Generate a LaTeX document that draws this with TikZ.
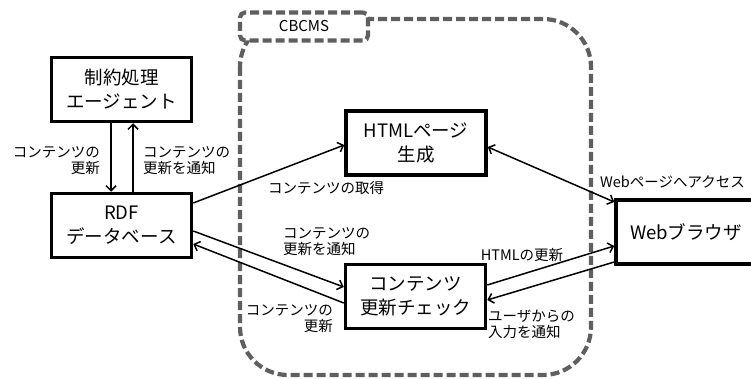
\documentclass[tikz,border=0pt]{standalone}
\usepackage{fontspec}
\setmainfont{Noto Sans CJK JP}
\usetikzlibrary{arrows.meta}
\definecolor{framegray}{RGB}{95,95,95}
\newcommand{\boxfont}{\fontsize{18.5}{24}\selectfont}
\newcommand{\notefont}{\fontsize{14.5}{16}\selectfont}
\tikzset{
  unit/.style   = {rectangle,draw,line width=3.5pt,align=center,font=\boxfont,minimum width=140pt,minimum height=64pt,inner sep=0pt},
  note/.style   = {font=\notefont,inner sep=0pt},
  flow/.style   = {-{Straight Barb[length=5pt,width=10pt]},line width=1.5pt},
  frame/.style  = {draw=framegray,line width=4.2pt,dash pattern=on 9pt off 4pt},
}

\begin{document}
\begin{tikzpicture}[x=1pt,y=-1pt]
\useasboundingbox (0,0) rectangle (751,379);
% CBCMS frame
\draw[frame,rounded corners=48pt] (240,19) rectangle (591,375);
\node[frame,fill=white,rounded corners=5pt,minimum width=128pt,minimum height=28pt,inner sep=0pt,font=\fontsize{15}{18}\selectfont] (cbcms) at (304,26.5) {CBCMS};
% boxes
\node[unit] (agent) at (121.5,89.5) {制約処理\\エージェント};
\node[unit] (rdf)   at (121.5,225.5) {RDF\\データベース};
\node[unit] (html)  at (416,143) {HTMLページ\\生成};
\node[unit] (check) at (415.5,296.5) {コンテンツ\\更新チェック};
\node[unit] (web)   at (686,232) {Webブラウザ};
% connectors
\draw[flow] ([xshift=-10.5pt]agent.south) -- ([xshift=-10.5pt]rdf.north);
\draw[flow] ([xshift=11.5pt]rdf.north) -- ([xshift=11.5pt]agent.south);
\draw[flow] ([yshift=22.5pt]rdf.east) -- ([yshift=-2pt]html.west);
\draw[flow] ([yshift=-5.5pt]rdf.east) -- ([yshift=9.5pt]check.west);
\draw[flow] ([yshift=-6.5pt]check.west) -- ([yshift=-18.5pt]rdf.east);
\draw[flow,{Straight Barb[length=5pt,width=10pt]}-{Straight Barb[length=5pt,width=10pt]}] ([yshift=-4pt]html.east) -- ([yshift=30pt]web.west);
\draw[flow] ([yshift=11.5pt]check.east) -- ([yshift=-14pt]web.west);
\draw[flow] ([yshift=-30pt]web.west) -- ([yshift=-3.5pt]check.east);
% labels
\node[note,anchor=east,align=right] (getL) at (100,160.5) {コンテンツの\\更新};
\node[note,anchor=west,align=left]  (notL) at (143,160.5) {コンテンツの\\更新を通知};
\node[note] (fetch) at (326,188) {コンテンツの取得};
\node[note,anchor=west,align=left]  (notC) at (283,241.5) {コンテンツの\\更新を通知};
\node[note,anchor=east,align=right] (updC) at (333,318.5) {コンテンツの\\更新};
\node[note,anchor=west] (access) at (600,182) {Webページへアクセス};
\node[note] (htmlup) at (522,255) {HTMLの更新};
\node[note,anchor=west,align=left] (input) at (488,324.5) {ユーザからの\\入力を通知};
\end{tikzpicture}
\end{document}
